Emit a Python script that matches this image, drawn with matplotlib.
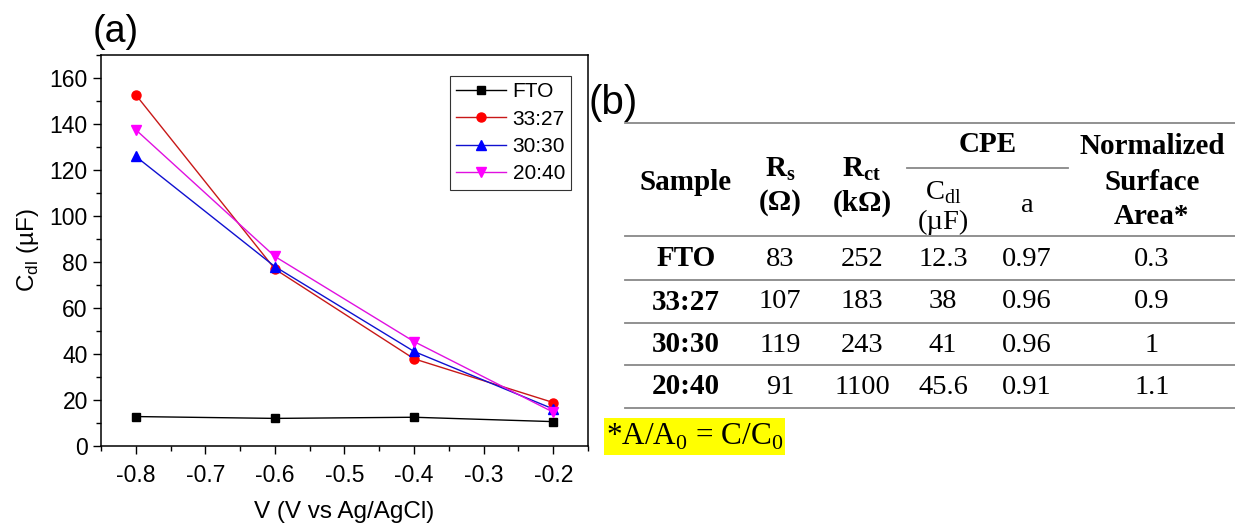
"""
Cdl vs potential (a) and EIS fit table (b)
"""

import matplotlib.pyplot as plt
from matplotlib.ticker import MultipleLocator
from matplotlib.patches import Rectangle

plt.rcParams['font.family'] = 'Liberation Sans'
plt.rcParams['axes.unicode_minus'] = False

# Panel (a) data
voltage = [-0.8, -0.6, -0.4, -0.2]
cdl_fto = [12.8, 12.0, 12.5, 10.6]
cdl_3327 = [152.7, 76.9, 37.9, 18.9]
cdl_3030 = [125.9, 78.0, 41.1, 16.1]
cdl_2040 = [137.5, 82.4, 45.4, 14.7]

series_labels = ['FTO', '33:27', '30:30', '20:40']

# Panel (b) table
samples = ['FTO', '33:27', '30:30', '20:40']
rs_ohm = ['83', '107', '119', '91']
rct_kohm = ['252', '183', '243', '1100']
cpe_cdl = ['12.3', '38', '41', '45.6']
cpe_a = ['0.97', '0.96', '0.96', '0.91']
norm_area = ['0.3', '0.9', '1', '1.1']

W, H = 1235, 525
fig = plt.figure(figsize=(W/100, H/100), dpi=100)

# overlay in pixel coordinates for the table and panel letters
ov = fig.add_axes([0, 0, 1, 1])
ov.set_xlim(0, W)
ov.set_ylim(H, 0)
ov.axis('off')

ax = fig.add_axes([101/W, 1 - 446/H, 487/W, 391/H])

styles = [
    dict(color='black', marker='s', ms=6, mfc='black'),
    dict(color='#c81818', marker='o', ms=6.5, mfc='#ff0000', mec='#ff0000'),
    dict(color='#1010d0', marker='^', ms=7, mfc='#0000ff', mec='#0000ff'),
    dict(color='#e010e0', marker='v', ms=7, mfc='#ff00ff', mec='#ff00ff'),
]
for vals, lab, st in zip([cdl_fto, cdl_3327, cdl_3030, cdl_2040], series_labels, styles):
    ax.plot(voltage, vals, lw=1.0, label=lab, **st)

ax.set_xlim(-0.85, -0.15)
ax.set_ylim(0, 170)
ax.xaxis.set_major_locator(MultipleLocator(0.1))
ax.xaxis.set_minor_locator(MultipleLocator(0.05))
ax.yaxis.set_major_locator(MultipleLocator(20))
ax.yaxis.set_minor_locator(MultipleLocator(10))
ax.tick_params(which='both', direction='out', top=False, right=False, width=1.0, labelsize=16.5)
ax.tick_params(which='major', length=6)
ax.tick_params(axis='x', which='major', pad=7)
ax.tick_params(which='minor', length=3.5)
for sp in ax.spines.values():
    sp.set_linewidth(1.1)
ax.set_xlabel('V (V vs Ag/AgCl)', fontsize=17.5, labelpad=10)
ax.set_ylabel('C$_\\mathregular{dl}$ (µF)', fontsize=17.5, labelpad=6)

leg = ax.legend(loc='upper left', bbox_to_anchor=(0.717, 0.946), borderaxespad=0,
                fontsize=15, fancybox=False, edgecolor='#333333', framealpha=1,
                handlelength=2.4, handletextpad=0.3, labelspacing=0.4,
                borderpad=0.3)
leg.get_frame().set_linewidth(0.8)

ov.text(116, 32, '(a)', fontsize=27, ha='center', va='center')
ov.text(613, 103, '(b)', fontsize=29, ha='center', va='center')

# table
serif = 'Liberation Serif'
col_x = [686, 780, 862, 943, 1027, 1152]
row_y = [259, 302, 345, 387]
line_c = '#888888'
for yy in [123, 236, 280, 323, 365, 408]:
    ov.plot([625, W], [yy, yy], color=line_c, lw=1.3)
ov.plot([907, 1068], [168, 168], color=line_c, lw=1.3)

hb = dict(family=serif, fontsize=21, fontweight='bold', ha='center', va='center')
hr = dict(family=serif, fontsize=20.5, ha='center', va='center')
ov.text(col_x[0], 183, 'Sample', **hb)
ov.text(col_x[1], 169, 'R$_\\mathregular{s}$', **hb)
ov.text(col_x[1], 203, '(Ω)', **hb)
ov.text(col_x[2], 169, 'R$_\\mathregular{ct}$', **hb)
ov.text(col_x[2], 203, '(kΩ)', **hb)
ov.text(988, 145, 'CPE', **hb)
ov.text(col_x[3], 193, 'C$_\\mathregular{dl}$', **hr)
ov.text(col_x[3], 222, '(µF)', **hr)
ov.text(col_x[4], 206, 'a', **hr)
ov.text(col_x[5], 146, 'Normalized', **hb)
ov.text(col_x[5], 183, 'Surface', **hb)
ov.text(col_x[5], 217, 'Area*', **hb)

for i, yy in enumerate(row_y):
    ov.text(col_x[0], yy, samples[i], **hb)
    for cx, col in zip(col_x[1:], [rs_ohm, rct_kohm, cpe_cdl, cpe_a, norm_area]):
        ov.text(cx, yy, col[i], **hr)

ov.add_patch(Rectangle((604, 418), 181, 37, color='#ffff00', lw=0))
ov.text(606, 437, '*A/A$_\\mathregular{0}$ = C/C$_\\mathregular{0}$', family=serif,
        fontsize=22.5, ha='left', va='center')

fig.savefig('out.png', dpi=100)
